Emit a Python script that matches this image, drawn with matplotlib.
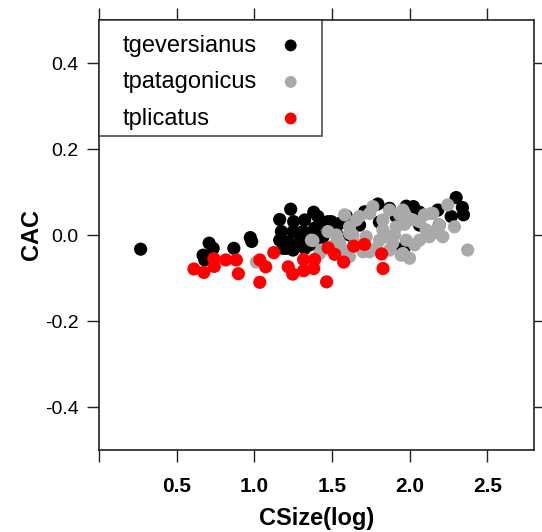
import matplotlib
matplotlib.use("Agg")
import matplotlib.pyplot as plt
from matplotlib.offsetbox import DrawingArea

plt.rcParams['font.family'] = ['Liberation Sans', 'DejaVu Sans']

# ---- data ----
species = ["tgeversianus", "tpatagonicus", "tplicatus"]
colors = ["#000000", "#A9A9A9", "#FF0000"]

geve_x = [0.268, 0.709, 0.735, 0.670, 0.681, 0.868, 0.974, 0.983, 1.234, 1.163,
          1.253, 1.324, 1.382, 1.409, 1.442, 1.474, 1.174, 1.249, 1.313, 1.388,
          1.163, 1.217, 1.292, 1.184, 1.249, 1.324, 1.356, 1.409, 1.442, 1.496,
          1.528, 1.538, 1.549, 1.592, 1.710, 1.795, 1.870, 1.913, 1.978, 2.024,
          2.063, 2.181, 2.299, 2.339, 2.346, 2.267, 1.956, 1.967, 1.206, 1.335,
          1.388, 1.677, 1.805, 2.063, 1.613, 2.190]
geve_y = [-0.033, -0.019, -0.031, -0.047, -0.058, -0.031, -0.006, -0.015, 0.060, 0.036,
          0.031, 0.035, 0.053, 0.043, 0.027, 0.031, 0.008, 0.008, 0.008, 0.016,
          -0.012, -0.016, -0.016, -0.031, -0.035, -0.031, -0.023, -0.023, -0.004, 0.031,
          0.004, -0.023, 0.027, 0.044, 0.054, 0.072, 0.062, 0.043, 0.067, 0.066,
          0.053, 0.058, 0.087, 0.064, 0.047, 0.043, -0.031, -0.028, -0.031, 0.004,
          -0.012, 0.023, 0.030, 0.023, 0.000, 0.023]

pata_x = [1.013, 1.377, 1.474, 1.528, 1.420, 1.517, 1.431, 1.560, 1.613, 1.677,
          1.763, 1.634, 1.720, 1.699, 1.827, 1.870, 1.785, 1.613, 1.656, 1.742,
          1.870, 1.956, 1.613, 1.827, 1.913, 1.978, 1.891, 1.742, 1.549, 1.592,
          1.967, 2.020, 2.138, 2.245, 2.288, 2.213, 2.127, 2.063, 1.870, 1.999,
          1.945, 2.373, 2.106, 2.149, 1.967, 1.934, 1.956, 2.149, 2.063, 1.367,
          1.581, 1.806, 1.677, 1.902, 2.031, 2.191, 2.095]
pata_y = [-0.063, -0.013, 0.008, 0.000, -0.043, -0.023, -0.035, -0.031, 0.019, 0.043,
          0.066, 0.000, -0.004, -0.039, 0.035, -0.004, -0.031, -0.050, 0.035, 0.050,
          0.058, 0.058, 0.004, 0.012, 0.019, -0.012, -0.019, -0.039, -0.019, -0.042,
          0.050, 0.035, 0.050, 0.070, 0.019, -0.004, -0.004, -0.012, -0.035, -0.054,
          -0.047, -0.035, 0.012, 0.050, 0.025, 0.048, -0.043, 0.004, 0.031, -0.012,
          0.047, -0.012, -0.023, 0.000, -0.023, 0.023, 0.047]

plic_x = [0.611, 0.675, 0.739, 0.742, 0.816, 0.884, 0.897, 1.035, 1.073, 1.035,
          1.125, 1.218, 1.247, 1.317, 1.317, 1.388, 1.382, 1.475, 1.517, 1.465,
          1.575, 1.639, 1.709, 1.819, 1.828]
plic_y = [-0.079, -0.087, -0.055, -0.073, -0.058, -0.058, -0.090, -0.058, -0.074, -0.110,
          -0.041, -0.074, -0.091, -0.057, -0.083, -0.057, -0.078, -0.030, -0.045, -0.109,
          -0.063, -0.026, -0.022, -0.044, -0.078]

xticks = [0.0, 0.5, 1.0, 1.5, 2.0, 2.5]
xticklabels = ["", "0.5", "1.0", "1.5", "2.0", "2.5"]
yticks = [-0.4, -0.2, 0.0, 0.2, 0.4]
yticklabels = ["-0.4", "-0.2", "0.0", "0.2", "0.4"]

# ---- figure ----
W, H = 542, 532
fig = plt.figure(figsize=(W / 100, H / 100), dpi=100)
ax = fig.add_axes([99 / W, 1 - 450 / H, 435 / W, 430 / H])

series = [(geve_x, geve_y), (pata_x, pata_y), (plic_x, plic_y)]
for (xs, ys), name, c in zip(series, species, colors):
    ax.scatter(xs, ys, s=90, c=c, edgecolors='none', label=name, zorder=2)

ax.set_xlim(0, 2.8)
ax.set_ylim(-0.5, 0.5)
ax.set_xticks(xticks)
ax.set_xticklabels(xticklabels, fontsize=15, fontweight='bold')
ax.set_yticks(yticks)
ax.set_yticklabels(yticklabels, fontsize=14)
ax.tick_params(axis='both', which='both', direction='out', length=8.6, width=1.0,
               top=True, right=True, labeltop=False, labelright=False,
               color='#222222')
ax.tick_params(axis='x', pad=11)
ax.tick_params(axis='y', pad=6)
for sp in ax.spines.values():
    sp.set_linewidth(1.2)
    sp.set_color('#222222')

ax.set_xlabel("CSize(log)", fontsize=17, fontweight='bold', labelpad=8)
ax.set_ylabel("CAC", fontsize=17, fontweight='bold', labelpad=1.7)

LFS = 17
leg = ax.legend(loc='upper left', bbox_to_anchor=(0, 1), borderaxespad=0,
                markerfirst=False, fontsize=LFS, frameon=True, fancybox=False,
                borderpad=0.28, labelspacing=0.615, handlelength=2.07,
                handletextpad=0.0, markerscale=0.9)
leg.get_frame().set_edgecolor('#222222')
leg.get_frame().set_linewidth(1.2)
leg.set_zorder(5)

# left-align the legend texts and keep markers in one column on the right
fig.canvas.draw()
renderer = fig.canvas.get_renderer()
dpicor = renderer.points_to_pixels(1.)
indent_px = 17.4
gap_px = 9.0
top_extra_px = 8.0
col = leg._legend_handle_box.get_children()[0]
items = col.get_children()
bbs = [it.get_children()[0].get_bbox(renderer) for it in items]
maxw = max(b.width for b in bbs)
for i, (it, b) in enumerate(zip(items, bbs)):
    tb, hb = it.get_children()[:2]
    h = (b.y1 + top_extra_px) / dpicor if i == 0 else 0
    it._children = [DrawingArea(indent_px / dpicor, h), tb,
                    DrawingArea((gap_px + maxw - b.width) / dpicor, 0), hb]
    it.sep = 0

fig.savefig("out.png", dpi=100)
